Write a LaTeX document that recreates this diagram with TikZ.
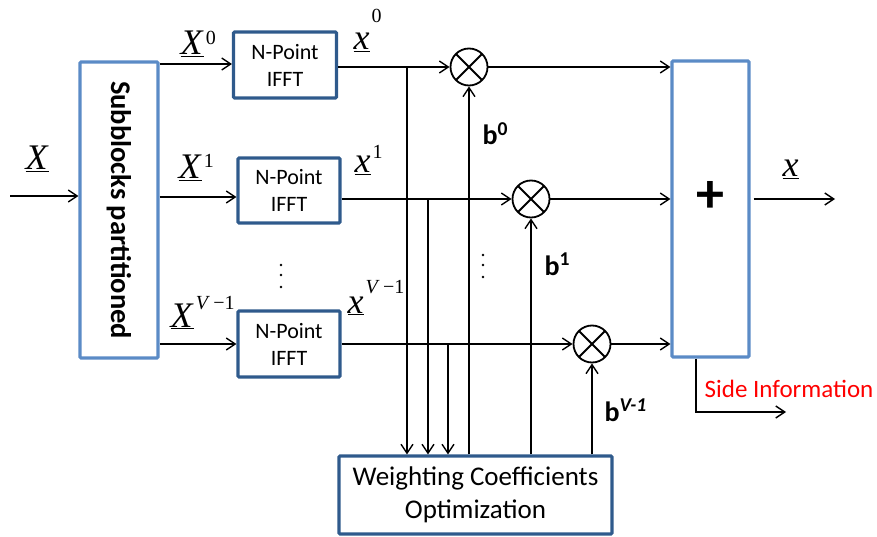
\documentclass[tikz,border=0pt]{standalone}
\usepackage{fontspec}
\setmainfont{Carlito}
\newfontfamily\tms{Liberation Serif}
\usetikzlibrary{arrows.meta}
\definecolor{lblue}{HTML}{5B8BC6}
\definecolor{dblue}{HTML}{2F5A8C}
\newcommand{\ulet}[1]{{\tms\fontsize{36}{36}\selectfont\underline{\textit{#1}}}}
\newcommand{\ulab}[3]{{\tms\fontsize{36}{36}\selectfont\underline{\textit{#1}}\hspace{2pt}\raisebox{#3}{\fontsize{20}{20}\selectfont #2}}}
\newcommand{\vmo}{\textit{V}\thinspace\symbol{"2212}1}
\begin{document}
\begin{tikzpicture}[x=1pt,y=-1pt,
  line width=1.4pt,
  ar/.style={-{Straight Barb[length=9pt,width=12pt]}},
  lbox/.style={draw=lblue, line width=3.1pt, inner sep=0pt, rounded corners=1pt},
  dbox/.style={draw=dblue, line width=3.1pt, inner sep=0pt, align=center, rounded corners=1pt},
  mult/.style={circle, draw, line width=1.8pt, minimum size=37pt, inner sep=0pt,
    path picture={\draw[line width=1.8pt] (path picture bounding box.north west)--(path picture bounding box.south east)
      (path picture bounding box.north east)--(path picture bounding box.south west);}},
  lab/.style={anchor=base west, inner sep=0pt},
  blab/.style={anchor=base west, inner sep=0pt, font=\bfseries\fontsize{28}{28}\selectfont},
  dotc/.style={fill=black}
]
\useasboundingbox (0,0) rectangle (877,537);

% boxes
\node[lbox, minimum width=78pt, minimum height=296pt] (sub) at (119,210) {};
\node[rotate=-90, font=\bfseries\fontsize{28.5}{28.5}\selectfont] at (sub.center) {Subblocks partitioned};
\node[dbox, minimum width=103pt, minimum height=66pt, font=\fontsize{22}{27}\selectfont] (ifft0) at (285,65) {N-Point\\IFFT};
\node[dbox, minimum width=102pt, minimum height=65pt, font=\fontsize{22}{27}\selectfont] (ifft1) at (289,190.5) {N-Point\\IFFT};
\node[dbox, minimum width=102pt, minimum height=66pt, font=\fontsize{22}{27}\selectfont] (ifft2) at (289,344) {N-Point\\IFFT};
\node[lbox, minimum width=77pt, minimum height=296pt] (sum) at (710.5,209) {};
\node[font=\bfseries\fontsize{56}{56}\selectfont] (plus) at (710,197) {+};
\node[dbox, minimum width=273pt, minimum height=78pt, font=\fontsize{27}{33}\selectfont] (wco) at (475.5,495) {Weighting Coefficients\\Optimization};

% multipliers
\node[mult] (m0) at (469,67) {};
\node[mult] (m1) at (531,199) {};
\node[mult] (m2) at (592,344) {};

% row coordinates
\coordinate (in) at (10,196);
\coordinate (ri0) at (0,64);
\coordinate (ri1) at (0,197);
\coordinate (ri2) at (0,344);
\coordinate (v1) at (407,67);
\coordinate (v2) at (428,199);
\coordinate (v3) at (448,344);
\coordinate (xout) at (835,199);
\coordinate (sd) at (696,412);
\coordinate (se) at (786,412);

% input
\draw[ar] (in) -- (in -| sub.west);
\draw[ar] (sub.east |- ri0) -- (ifft0.west |- ri0);
\draw[ar] (sub.east |- ri1) -- (ifft1.west |- ri1);
\draw[ar] (sub.east |- ri2) -- (ifft2.west |- ri2);

% ifft outputs to multipliers
\draw[ar] (ifft0.east |- m0) -- (m0.west);
\draw[ar] (ifft1.east |- m1) -- (m1.west);
\draw[ar] (ifft2.east |- m2) -- (m2.west);

% multipliers to sum
\draw[ar] (m0.east) -- (m0 -| sum.west);
\draw[ar] (m1.east) -- (m1 -| sum.west);
\draw[ar] (m2.east) -- (m2 -| sum.west);

% output
\draw[ar] ([xshift=3pt]sum.east |- m1) -- (xout);

% taps to optimizer
\draw[ar] (v1) -- (v1 |- wco.north);
\draw[ar] (v2) -- (v2 |- wco.north);
\draw[ar] (v3) -- (v3 |- wco.north);

% weights
\draw[ar] (wco.north -| m0) -- (m0.south);
\draw[ar] (wco.north -| m1) -- (m1.south);
\draw[ar] (wco.north -| m2) -- (m2.south);

% side information
\draw[ar] (sum.south -| sd) -- (sd) -- (se);
\node[lab, text=red, font=\fontsize{25}{25}\selectfont] (side) at (704,397) {Side Information};

% labels
\node[lab] (lX) at (25,170) {\ulet{X}};
\node[lab] (lX0) at (180,55) {\ulab{X}{0}{10pt}};
\node[lab] (lX1) at (178,179) {\ulab{X}{1}{11pt}};
\node[lab] (lX2) at (170,327) {\ulab{X}{\vmo}{18pt}};
\node[lab] (lx0) at (353,50) {\ulab{x}{0}{27pt}};
\node[lab] (lx1) at (354,173) {\ulab{x}{1}{14pt}};
\node[lab] (lx2) at (347,313) {\ulab{x}{\vmo}{20pt}};
\node[lab] (lxo) at (782,177) {\ulet{x}};

\node[blab] (b0) at (482,145) {b\textsuperscript{0}};
\node[blab] (b1) at (544,275) {b\textsuperscript{1}};
\node[blab] (b2) at (604,421) {b\textsuperscript{\itshape V-1}};

% dots
\fill[dotc] (281,265) circle (1.4pt) (281,275) circle (1.4pt) (281,287) circle (1.4pt);
\fill[dotc] (483,255) circle (1.4pt) (483,265) circle (1.4pt) (483,277) circle (1.4pt);
\end{tikzpicture}
\end{document}
